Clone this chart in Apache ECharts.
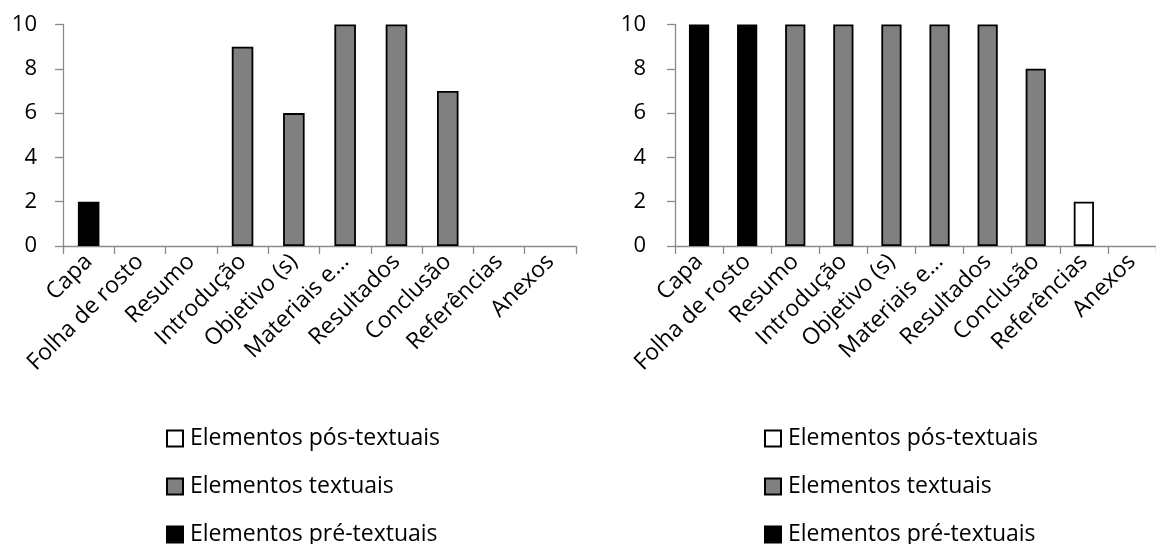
<!DOCTYPE html>
<html>
<head>
<meta charset="utf-8">
<script src="https://cdn.jsdelivr.net/npm/echarts@6/dist/echarts.min.js"></script>
<style>
  html, body { margin: 0; padding: 0; background: #fff; }
  #chart { width: 1156px; height: 544px; }
</style>
</head>
<body>
<div id="chart"></div>
<script>
// Categories shared by both panels
const categories = ['Capa', 'Folha de rosto', 'Resumo', 'Introdução', 'Objetivo (s)',
  'Materiais e…', 'Resultados', 'Conclusão', 'Referências', 'Anexos'];

const yTicks = [0, 2, 4, 6, 8, 10];

const seriesNames = ['Elementos pós-textuais', 'Elementos textuais', 'Elementos pré-textuais'];

// Left panel
const leftPre   = [2, null, null, null, null, null, null, null, null, null];
const leftText  = [null, null, null, 9, 6, 10, 10, 7, null, null];
const leftPos   = [null, null, null, null, null, null, null, null, null, null];

// Right panel
const rightPre  = [10, 10, null, null, null, null, null, null, null, null];
const rightText = [null, null, 10, 10, 10, 10, 10, 8, null, null];
const rightPos  = [null, null, null, null, null, null, null, null, 2, null];

const FONT = '"Open Sans", "Noto Sans", sans-serif';
const AXIS_GRAY = '#8a8a8a';
const fills = {
  'Elementos pós-textuais': '#ffffff',
  'Elementos textuais': '#808080',
  'Elementos pré-textuais': '#000000'
};

function xAxisFor(gridIndex) {
  return {
    type: 'category', gridIndex, data: categories,
    boundaryGap: true,
    axisLine: { lineStyle: { color: AXIS_GRAY, width: 1.3 } },
    axisTick: { show: true, length: 8, lineStyle: { color: AXIS_GRAY, width: 1.3 } },
    axisLabel: { rotate: 45, interval: 0, margin: 12, color: '#000', fontFamily: FONT, fontSize: 23 },
    splitLine: { show: false }
  };
}

function yAxisFor(gridIndex, margin) {
  return {
    type: 'value', gridIndex, min: yTicks[0], max: yTicks[yTicks.length - 1], interval: 2,
    axisLine: { show: true, lineStyle: { color: AXIS_GRAY, width: 1.3 } },
    axisTick: { show: true, inside: false, length: 8, lineStyle: { color: AXIS_GRAY, width: 1.3 } },
    axisLabel: { margin, color: '#000', fontFamily: FONT, fontSize: 22 },
    splitLine: { show: false }
  };
}

function bar(name, data, idx) {
  return {
    name, type: 'bar', data, stack: 'p' + idx,
    xAxisIndex: idx, yAxisIndex: idx,
    barWidth: '42%',
    itemStyle: { color: fills[name], borderColor: '#000', borderWidth: 1.8 },
    emphasis: { disabled: true }
  };
}

function legendAt(left) {
  return {
    orient: 'vertical', left, top: 427, height: 140, padding: 0,
    data: seriesNames,
    icon: 'rect', itemWidth: 16, itemHeight: 16, itemGap: 25,
    textStyle: { color: '#000', fontFamily: FONT, fontSize: 23, lineHeight: 23, padding: [0, 0, 0, 2] },
    selectedMode: false
  };
}

const chart = echarts.init(document.getElementById('chart'));
chart.setOption({
  animation: false,
  grid: [
    { left: 63, top: 24.5, width: 513, height: 221.5 },
    { left: 675, top: 24.5, width: 485, height: 221.5 }
  ],
  xAxis: [xAxisFor(0), xAxisFor(1)],
  yAxis: [yAxisFor(0, 26), yAxisFor(1, 29)],
  legend: [legendAt(166), legendAt(764)],
  series: [
    bar('Elementos pré-textuais', leftPre, 0),
    bar('Elementos textuais', leftText, 0),
    bar('Elementos pós-textuais', leftPos, 0),
    bar('Elementos pré-textuais', rightPre, 1),
    bar('Elementos textuais', rightText, 1),
    bar('Elementos pós-textuais', rightPos, 1)
  ]
});
</script>
</body>
</html>
